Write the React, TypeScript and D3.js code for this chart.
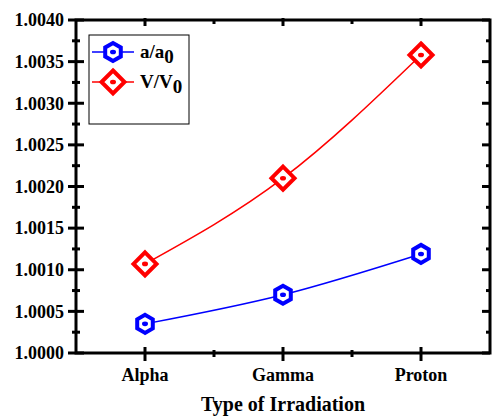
import React, { useEffect, useRef } from "react";
import * as d3 from "d3";

const categories = ["Alpha", "Gamma", "Proton"];
const latticeRatio = [1.00035, 1.0007, 1.00119];
const volumeRatio = [1.00107, 1.0021, 1.00358];
const yTickValues = [1.0, 1.0005, 1.001, 1.0015, 1.002, 1.0025, 1.003, 1.0035, 1.004];
const seriesNames = ["a/a", "V/V"];

const FONT = "'Liberation Serif', 'Times New Roman', serif";

const hexagon = (r: number) => {
    const pts = d3.range(6).map(i => {
        const a = Math.PI / 2 + (i * Math.PI) / 3;
        return [r * Math.cos(a), r * Math.sin(a)];
    });
    return "M" + pts.map(p => p.join(",")).join("L") + "Z";
};

const diamond = (r: number) => `M0,${-r}L${r},0L0,${r}L${-r},0Z`;

const App = () => {
    const chartRef = useRef<SVGSVGElement>(null);

    useEffect(() => {
        const width = 493;
        const height = 416;
        const left = 76, right = 490, top = 20, bottom = 353;

        const svg = d3.select(chartRef.current);
        svg.selectAll("*").remove();
        svg.attr("width", width).attr("height", height);

        const x = d3.scaleLinear().domain([0.5, 3.5]).range([left, right]);
        const y = d3.scaleLinear().domain([1.0, 1.004]).range([bottom, top]);

        const minorY = d3.range(8).map(i => (yTickValues[i] + yTickValues[i + 1]) / 2);
        const minorX = [1.5, 2.5];

        const line = d3.line<number>()
            .x((d, i) => x(i + 1))
            .y(d => y(d))
            .curve(d3.curveMonotoneX);

        // lines
        svg.append("path")
            .attr("d", line(volumeRatio))
            .attr("fill", "none")
            .attr("stroke", "#ff0000")
            .attr("stroke-width", 1.5);
        svg.append("path")
            .attr("d", line(latticeRatio))
            .attr("fill", "none")
            .attr("stroke", "#0000ff")
            .attr("stroke-width", 1.5);

        const drawMarker = (g: any, kind: string, cx: number, cy: number) => {
            const color = kind === "hex" ? "#0000ff" : "#ff0000";
            const m = g.append("g").attr("transform", `translate(${cx},${cy})`);
            m.append("path")
                .attr("d", kind === "hex" ? hexagon(9) : diamond(11.5))
                .attr("fill", "white")
                .attr("stroke", color)
                .attr("stroke-width", 4)
                .attr("stroke-linejoin", "miter");
            m.append("ellipse")
                .attr("rx", 3)
                .attr("ry", 2.3)
                .attr("fill", color);
        };

        volumeRatio.forEach((v, i) => drawMarker(svg, "dia", x(i + 1), y(v)));
        latticeRatio.forEach((v, i) => drawMarker(svg, "hex", x(i + 1), y(v)));

        // frame
        svg.append("rect")
            .attr("x", left)
            .attr("y", top)
            .attr("width", right - left)
            .attr("height", bottom - top)
            .attr("fill", "none")
            .attr("stroke", "black")
            .attr("stroke-width", 3);

        const ticks = svg.append("g").attr("stroke", "black").attr("stroke-width", 3);

        // left axis: crossing ticks, right axis: inward ticks
        yTickValues.forEach(v => {
            ticks.append("line").attr("x1", left - 8).attr("x2", left + 8).attr("y1", y(v)).attr("y2", y(v));
            ticks.append("line").attr("x1", right - 8).attr("x2", right).attr("y1", y(v)).attr("y2", y(v));
        });
        minorY.forEach(v => {
            ticks.append("line").attr("x1", left - 4).attr("x2", left + 4).attr("y1", y(v)).attr("y2", y(v));
            ticks.append("line").attr("x1", right - 4).attr("x2", right).attr("y1", y(v)).attr("y2", y(v));
        });
        categories.forEach((c, i) => {
            ticks.append("line").attr("x1", x(i + 1)).attr("x2", x(i + 1)).attr("y1", bottom - 6).attr("y2", bottom + 8);
            ticks.append("line").attr("x1", x(i + 1)).attr("x2", x(i + 1)).attr("y1", top - 2).attr("y2", top + 6);
        });
        minorX.forEach(v => {
            ticks.append("line").attr("x1", x(v)).attr("x2", x(v)).attr("y1", bottom - 3).attr("y2", bottom + 4);
            ticks.append("line").attr("x1", x(v)).attr("x2", x(v)).attr("y1", top).attr("y2", top + 4);
        });

        // tick labels
        svg.append("g")
            .selectAll("text")
            .data(yTickValues)
            .enter()
            .append("text")
            .attr("x", left - 12)
            .attr("y", d => y(d))
            .attr("dy", "0.35em")
            .attr("text-anchor", "end")
            .style("font-family", FONT)
            .style("font-weight", "bold")
            .style("font-size", "18px")
            .text(d => d3.format(".4f")(d));

        svg.append("g")
            .selectAll("text")
            .data(categories)
            .enter()
            .append("text")
            .attr("x", (d, i) => x(i + 1))
            .attr("y", 381)
            .attr("text-anchor", "middle")
            .style("font-family", FONT)
            .style("font-weight", "bold")
            .style("font-size", "18px")
            .text(d => d);

        svg.append("text")
            .attr("x", x(2))
            .attr("y", 411)
            .attr("text-anchor", "middle")
            .style("font-family", FONT)
            .style("font-weight", "bold")
            .style("font-size", "20px")
            .text("Type of Irradiation");

        // legend
        const legend = svg.append("g");
        legend.append("rect")
            .attr("x", 89)
            .attr("y", 35)
            .attr("width", 100)
            .attr("height", 89)
            .attr("fill", "white")
            .attr("stroke", "black")
            .attr("stroke-width", 1);

        seriesNames.forEach((name, i) => {
            const ly = 52 + i * 30;
            const color = i === 0 ? "#0000ff" : "#ff0000";
            legend.append("line")
                .attr("x1", 92).attr("x2", 134)
                .attr("y1", ly).attr("y2", ly)
                .attr("stroke", color)
                .attr("stroke-width", 1.5);
            drawMarker(legend, i === 0 ? "hex" : "dia", 113, ly);
            const t = legend.append("text")
                .attr("x", 140)
                .attr("y", ly + 6)
                .style("font-family", FONT)
                .style("font-weight", "bold")
                .style("font-size", "19px");
            t.append("tspan").text(name);
            t.append("tspan").attr("dy", 5).text("0");
        });
    }, []);

    return <svg ref={chartRef} style={{ position: "absolute", left: 0, top: 0, background: "white" }}></svg>;
};

export default App;
